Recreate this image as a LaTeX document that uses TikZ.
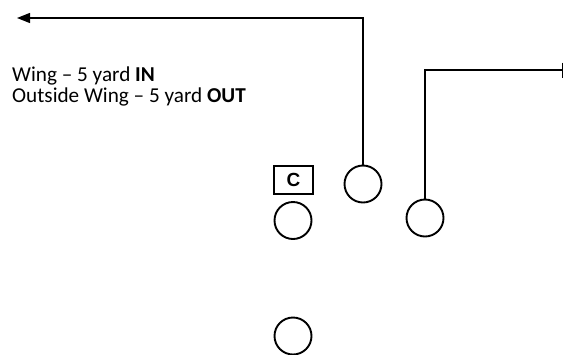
\documentclass[tikz,border=0pt]{standalone}
\usepackage{fontspec}
\setmainfont{Carlito}
\newfontfamily\arialfont{Liberation Sans}
\usetikzlibrary{arrows.meta}
\begin{document}
\begin{tikzpicture}[x=1pt,y=-1pt,
  player/.style={draw,circle,line width=1.9pt,minimum size=37pt,inner sep=0pt},
  center/.style={draw,rectangle,line width=1.9pt,minimum width=39pt,minimum height=28pt,inner sep=0pt,font=\arialfont\bfseries\fontsize{19}{19}\selectfont},
  route/.style={line width=1.4pt},
  note/.style={font=\fontsize{21.2}{21}\selectfont,align=left,inner sep=0pt}]
\useasboundingbox (0,0) rectangle (564,354);
% offensive players
\node[center] (c) at (293.5,180) {C};
\node[player] (qb) at (293,220.5) {};
\node[player] (back) at (293,336) {};
\node[player] (wing) at (363,184) {};
\node[player] (owing) at (425,218) {};
% routes
\coordinate (inEnd) at (17,18);
\coordinate (outEnd) at (563,70);
\draw[route,-{Triangle[length=13pt,width=10pt]}] (wing.north) |- (inEnd);
\draw[route,-{Bar[width=15pt]}] (owing.north) |- (outEnd);
% route notes (anchored on the baseline of the last line)
\node[note,anchor=base west] (txt) at (12,102) {Wing -- 5 yard \textbf{IN}\\Outside Wing -- 5 yard \textbf{OUT}};
\end{tikzpicture}
\end{document}
